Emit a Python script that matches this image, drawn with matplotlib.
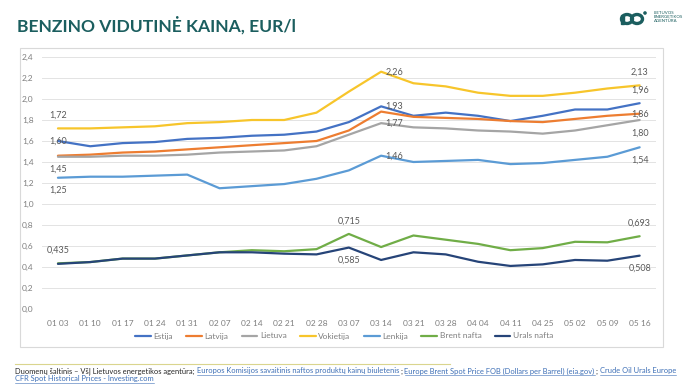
import numpy as np
from matplotlib import pyplot as plt
from matplotlib.patches import Rectangle, Ellipse
from matplotlib.lines import Line2D

plt.rcParams['font.family'] = ['Lato', 'DejaVu Sans']

# ===================== 数据 =====================
dates = ['01 03', '01 10', '01 17', '01 24', '01 31', '02 07', '02 14', '02 21', '02 28',
         '03 07', '03 14', '03 21', '03 28', '04 04', '04 11', '04 25', '05 02', '05 09', '05 16']

estija = [1.60, 1.55, 1.58, 1.59, 1.62, 1.63, 1.65, 1.66, 1.69, 1.78, 1.93,
          1.84, 1.87, 1.84, 1.79, 1.84, 1.90, 1.90, 1.96]
latvija = [1.46, 1.47, 1.49, 1.50, 1.52, 1.54, 1.56, 1.58, 1.60, 1.70, 1.88,
           1.83, 1.82, 1.81, 1.79, 1.78, 1.81, 1.84, 1.86]
lietuva = [1.45, 1.45, 1.46, 1.46, 1.47, 1.49, 1.50, 1.51, 1.55, 1.66, 1.77,
           1.73, 1.72, 1.70, 1.69, 1.67, 1.70, 1.75, 1.80]
vokietija = [1.72, 1.72, 1.73, 1.74, 1.77, 1.78, 1.80, 1.80, 1.87, 2.07, 2.26,
             2.15, 2.12, 2.06, 2.03, 2.03, 2.06, 2.10, 2.13]
lenkija = [1.25, 1.26, 1.26, 1.27, 1.28, 1.15, 1.17, 1.19, 1.24, 1.32, 1.46,
           1.40, 1.41, 1.42, 1.38, 1.39, 1.42, 1.45, 1.54]
brent = [0.435, 0.447, 0.48, 0.48, 0.51, 0.54, 0.56, 0.55, 0.57, 0.715, 0.59,
         0.70, 0.66, 0.62, 0.56, 0.58, 0.64, 0.635, 0.693]
urals = [0.43, 0.447, 0.48, 0.48, 0.51, 0.54, 0.54, 0.527, 0.52, 0.585, 0.467,
         0.54, 0.52, 0.45, 0.41, 0.425, 0.467, 0.46, 0.508]

series = [
    ('Estija', estija, '#4472C4'),
    ('Latvija', latvija, '#ED7D31'),
    ('Lietuva', lietuva, '#A5A5A5'),
    ('Vokietija', vokietija, '#F7C52B'),
    ('Lenkija', lenkija, '#5B9BD5'),
    ('Brent nafta', brent, '#70AD47'),
    ('Urals nafta', urals, '#264478'),
]

# (serija, indeksas, tekstas, vieta)
labels = [
    ('Vokietija', 0, '1,72', 'above'), ('Estija', 0, '1,60', 'center'),
    ('Lietuva', 0, '1,45', 'below'), ('Lenkija', 0, '1,25', 'below'),
    ('Vokietija', 10, '2,26', 'right'), ('Estija', 10, '1,93', 'right'),
    ('Lietuva', 10, '1,77', 'right'), ('Lenkija', 10, '1,46', 'right'),
    ('Vokietija', 18, '2,13', 'above'), ('Estija', 18, '1,96', 'above'),
    ('Latvija', 18, '1,86', 'center'), ('Lietuva', 18, '1,80', 'below'),
    ('Lenkija', 18, '1,54', 'below'),
    ('Brent nafta', 0, '0,435', 'above'), ('Brent nafta', 9, '0,715', 'above'),
    ('Urals nafta', 9, '0,585', 'below'), ('Brent nafta', 18, '0,693', 'above'),
    ('Urals nafta', 18, '0,508', 'below'),
]

# ===================== 图 =====================
fig = plt.figure(figsize=(6.9, 3.87), dpi=100)
W, H = 690, 387

# chart frame
frame = Rectangle((20 / W, 1 - 347 / H), 643 / W, 299 / H, transform=fig.transFigure,
                  facecolor='white', edgecolor='#D9D9D9', linewidth=0.8, zorder=-5)
fig.add_artist(frame)

ax = fig.add_axes([41.8 / W, 1 - 309 / H, 614 / W, 252 / H])
ax.patch.set_visible(False)
x = np.arange(len(dates))
for name, vals, col in series:
    ax.plot(x, vals, color=col, linewidth=1.6, label=name, solid_capstyle='round')

values = {name: vals for name, vals, col in series}
offs = {'above': ((0, 6), 'center', 'bottom'), 'below': ((0, -6), 'center', 'top'),
        'right': ((3, 0), 'left', 'center'), 'center': ((0, 0), 'center', 'center')}
for name, i, txt, pos in labels:
    off, ha, va = offs[pos]
    ax.annotate(txt, (i, values[name][i]), xytext=off, textcoords='offset points',
                ha=ha, va=va, fontsize=6.5, color='#595959')

ax.set_xlim(-0.5, len(dates) - 0.5)
ax.set_ylim(0, 2.4)
ax.set_yticks(np.arange(0, 2.41, 0.2))
ax.set_yticklabels([f'{v:.1f}'.replace('.', ',') for v in np.arange(0, 2.41, 0.2)])
ax.set_xticks(x)
ax.set_xticklabels(dates)
ax.tick_params(length=0, labelsize=6, colors='#7F7F7F', pad=8)
ax.tick_params(axis='y', pad=6)
for s in ax.spines.values():
    s.set_visible(False)
ax.grid(axis='y', color='#E3E3E3', linewidth=0.7)
ax.set_axisbelow(True)

leg = ax.legend(loc='center', bbox_to_anchor=(344 / W, 1 - 336 / H),
                bbox_transform=fig.transFigure, ncol=7, frameon=False,
                fontsize=6, handlelength=1.9, columnspacing=1.6, handletextpad=0.3)
for t in leg.get_texts():
    t.set_color('#7F7F7F')

# title
fig.text(17 / W, 1 - 25 / H, 'BENZINO VIDUTINĖ KAINA, EUR/l', fontsize=12.6,
         fontweight='bold', color='#1B5E5F', ha='left', va='center')

# logo
lax = fig.add_axes([618 / W, 1 - 27 / H, 34 / W, 18 / H])
lax.set_xlim(0, 34)
lax.set_ylim(0, 18)
lax.axis('off')
lax.add_patch(Ellipse((9, 8), 11, 9, fill=False, edgecolor='#1B5E5F', linewidth=2.4))
lax.add_patch(Ellipse((19, 8), 11, 9, fill=False, edgecolor='#1B5E5F', linewidth=2.4))
lax.add_patch(Rectangle((3, 3.5), 2.5, 9, color='#1B5E5F'))
lax.add_patch(Ellipse((27, 14), 2.2, 2.2, color='#1B5E5F'))
fig.text(654 / W, 1 - 17 / H, 'LIETUVOS\nENERGETIKOS\nAGENTŪRA', fontsize=3.2,
         color='#1B5E5F', ha='left', va='center', linespacing=1.1)

# footer line
fig.add_artist(Line2D([15 / W, 450 / W], [1 - 364 / H, 1 - 364 / H],
                      transform=fig.transFigure, color='#DAD58E', linewidth=0.8))

# footer text with links
parts1 = [('Duomenų šaltinis – VšĮ Lietuvos energetikos agentūra;', False),
          ('Europos Komisijos savaitinis naftos produktų kainų biuletenis', True),
          (';', False),
          ('Europe Brent Spot Price FOB (Dollars per Barrel) (eia.gov)', True),
          (';', False),
          ('Crude Oil Urals Europe', True)]
parts2 = [('CFR Spot Historical Prices - Investing.com', True)]

fig.canvas.draw()
renderer = fig.canvas.get_renderer()


def write_line(parts, ypx):
    xpx = 15
    for txt, link in parts:
        t = fig.text(xpx / W, 1 - ypx / H, txt, fontsize=5.4, ha='left', va='baseline',
                     color='#3D6FB6' if link else '#262626')
        bb = t.get_window_extent(renderer)
        if link:
            fig.add_artist(Line2D([bb.x0 / W, bb.x1 / W], [1 - (ypx + 1.5) / H] * 2,
                                  transform=fig.transFigure, color='#3D6FB6',
                                  linewidth=0.4))
        # plain parts end with a space before the next link
        xpx += bb.width + (0.5 if link else 2.5)


write_line(parts1, 373.5)
write_line(parts2, 381.5)

fig.savefig('out.png', dpi=100)
